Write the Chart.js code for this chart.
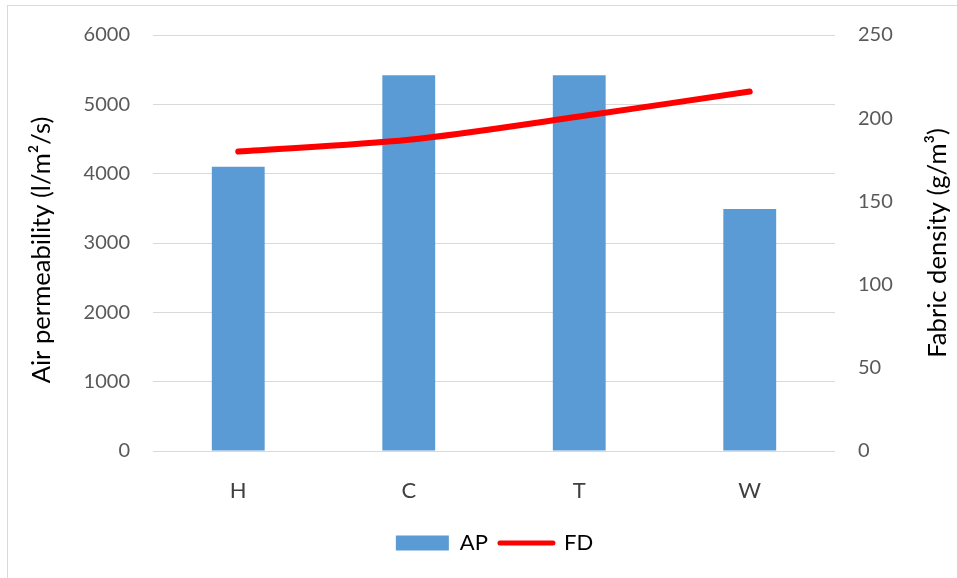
<!DOCTYPE html>
<html>
<head>
<meta charset="utf-8">
<script src="https://cdn.jsdelivr.net/npm/chart.js@4"></script>
<style>
  html, body { margin: 0; padding: 0; background: #fff; overflow: hidden; }
  #wrap { position: relative; width: 957px; height: 578px; }
  #frame { position: absolute; left: 7px; top: 5px; width: 1000px; height: 1000px; border: 1px solid #d9d9d9; box-sizing: border-box; }
  canvas { position: absolute; left: 0; top: 0; }
</style>
</head>
<body>
<div id="wrap">
  <div id="frame"></div>
  <canvas id="chart" width="957" height="578"></canvas>
</div>
<script>
// data
const categories = ["H", "C", "T", "W"];
const apValues = [4100, 5420, 5420, 3490];   // air permeability, l/m2/s
const fdValues = [180, 187, 201, 216];       // fabric density, g/m3
const leftTicks = [0, 1000, 2000, 3000, 4000, 5000, 6000];
const rightTicks = [0, 50, 100, 150, 200, 250];

const FONT = "Lato, 'Open Sans', sans-serif";
const leftTitle = "Air permeability (l/m\u00b2/s)";
const rightTitle = "Fabric density (g/m\u00b3)";

// both axis titles read bottom-to-top; drawn by hand so they sit where the original has them
const axisTitles = {
    id: "axisTitles",
    afterDraw(chart) {
        const c = chart.ctx;
        const area = chart.chartArea;
        const mid = (area.top + area.bottom) / 2;
        [[leftTitle, 42, mid + 7], [rightTitle, 938, mid]].forEach(([txt, x, y]) => {
            c.save();
            c.translate(x, y);
            c.rotate(-Math.PI / 2);
            c.font = "25.6px " + FONT;
            c.fillStyle = "#000";
            c.textAlign = "center";
            c.textBaseline = "middle";
            c.fillText(txt, 0, 0);
            c.restore();
        });
    }
};

// move the legend so it sits under the plot, not the whole canvas
const legendShift = {
    id: "legendShift",
    afterLayout(chart) {
        chart.legend.left += 16;
        chart.legend.right += 16;
    }
};

// ======================================
// chart
// ======================================
const ctx = document.getElementById("chart").getContext("2d");

new Chart(ctx, {
    type: "bar",
    data: {
        labels: categories,
        datasets: [
            {
                type: "line",
                label: "FD",
                data: fdValues,
                yAxisID: "y2",
                borderColor: "#ff0000",
                backgroundColor: "#ff0000",
                borderWidth: 6,
                borderCapStyle: "round",
                tension: 0.3,
                pointRadius: 0,
                order: 0
            },
            {
                label: "AP",
                data: apValues,
                yAxisID: "y",
                backgroundColor: "#5b9bd5",
                barPercentage: 0.62,
                categoryPercentage: 0.5,
                order: 1
            }
        ]
    },
    plugins: [axisTitles, legendShift],
    options: {
        responsive: false,
        animation: false,
        layout: { padding: { top: 35, bottom: 14, left: 0, right: 0 } },
        plugins: {
            tooltip: { enabled: false },
            legend: {
                position: "bottom",
                labels: {
                    usePointStyle: true,
                    pointStyleWidth: 53,
                    boxHeight: 15,
                    padding: 12,
                    color: "#000",
                    font: { family: FONT, size: 22 },
                    generateLabels: () => [
                        { text: "AP", pointStyle: "rect", fillStyle: "#5b9bd5", strokeStyle: "#5b9bd5", lineWidth: 0, datasetIndex: 1 },
                        { text: "FD", pointStyle: "line", fillStyle: "#ff0000", strokeStyle: "#ff0000", lineWidth: 5, lineCap: "round", datasetIndex: 0 }
                    ]
                }
            }
        },
        scales: {
            x: {
                grid: { display: false },
                border: { display: false },
                ticks: { color: "#404040", font: { family: FONT, size: 22 }, padding: 19 },
                afterFit: s => { s.height = 69; }
            },
            y: {
                position: "left",
                min: 0,
                max: 6000,
                afterBuildTicks: s => { s.ticks = leftTicks.map(v => ({ value: v })); },
                grid: { color: "#d9d9d9", lineWidth: 1, drawTicks: false },
                border: { display: false },
                ticks: {
                    color: "#595959",
                    font: { family: FONT, size: 20 },
                    padding: 23,
                    callback: v => String(v)
                },
                afterFit: s => { s.width = 153; }
            },
            y2: {
                position: "right",
                min: 0,
                max: 250,
                afterBuildTicks: s => { s.ticks = rightTicks.map(v => ({ value: v })); },
                grid: { display: false, drawTicks: false },
                border: { display: false },
                ticks: {
                    color: "#595959",
                    font: { family: FONT, size: 20 },
                    padding: 23,
                    callback: v => String(v)
                },
                afterFit: s => { s.width = 122; }
            }
        }
    }
});
</script>
</body>
</html>
